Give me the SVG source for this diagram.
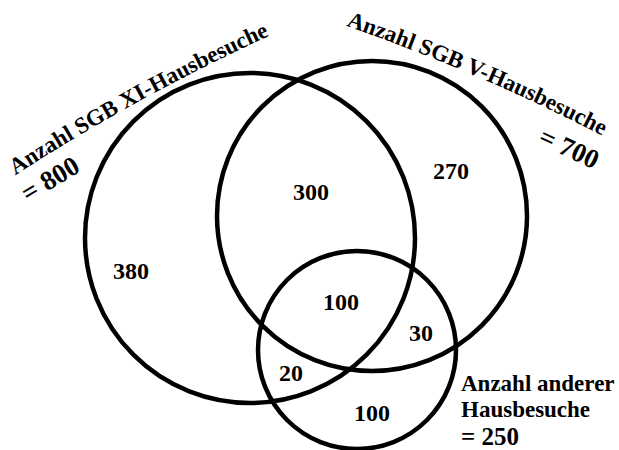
<svg xmlns="http://www.w3.org/2000/svg" width="619" height="450" viewBox="0 0 619 450">
<style>
.c{fill:none;stroke:#000;stroke-width:4.5}
.t{font-family:"Liberation Serif","Times New Roman",serif;font-weight:bold;fill:#000;font-size:23px}
.n{font-family:"Liberation Serif","Times New Roman",serif;font-weight:bold;fill:#000;font-size:24px;text-anchor:middle}
.big{font-size:27px}
</style>
<defs>
<path id="arcXI" d="M 14 176 A 2000 2000 0 0 1 271 35"/>
<path id="arcV" d="M 341 24 A 2000 2000 0 0 1 607 138"/>
</defs>
<rect width="619" height="450" fill="#fff"/>
<g id="set-sgb-xi">
<circle class="c" cx="250" cy="238" r="165"/>
<text class="t"><textPath href="#arcXI" startOffset="50%" text-anchor="middle">Anzahl SGB XI-Hausbesuche</textPath></text>
<text class="t big" transform="translate(28 203) rotate(-31)">= 800</text>
</g>
<g id="set-sgb-v">
<circle class="c" cx="372" cy="216" r="155"/>
<text class="t"><textPath href="#arcV" startOffset="50%" text-anchor="middle">Anzahl SGB V-Hausbesuche</textPath></text>
<text class="t big" transform="translate(537 143) rotate(25)">= 700</text>
</g>
<g id="set-andere">
<circle class="c" cx="357" cy="350" r="99"/>
<text class="t" x="461" y="391">Anzahl anderer</text>
<text class="t" x="461" y="417">Hausbesuche</text>
<text class="t" style="font-size:25px" x="461" y="445">= 250</text>
</g>
<g id="regions">
<text class="n" x="131" y="279">380</text>
<text class="n" x="311" y="200">300</text>
<text class="n" x="451" y="179">270</text>
<text class="n" x="341" y="310">100</text>
<text class="n" x="421" y="341">30</text>
<text class="n" x="291" y="381">20</text>
<text class="n" x="372" y="421">100</text>
</g>
</svg>
